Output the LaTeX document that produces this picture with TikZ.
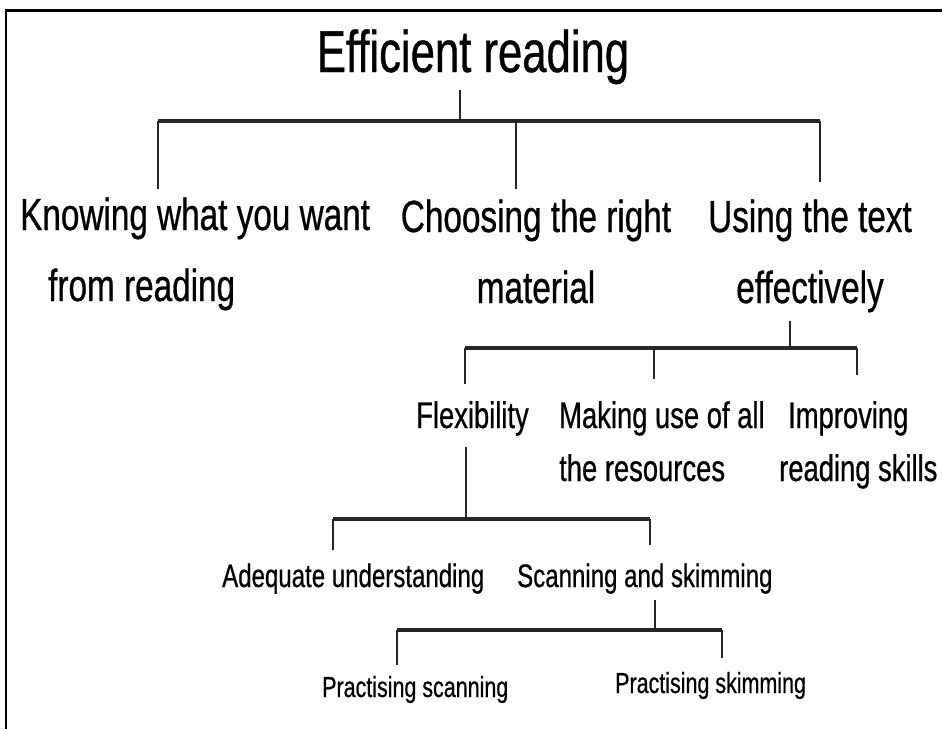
\documentclass[tikz,border=0pt]{standalone}
\usepackage{fontspec}
\setmainfont[FakeStretch=0.74, FakeBold=0.6]{Liberation Sans}
\usetikzlibrary{positioning,calc}
\definecolor{treeLine}{RGB}{38,38,38}
\tikzset{
  topic/.style={inner sep=0pt, anchor=base, font=\fontsize{59}{68}\selectfont},
  branch/.style={inner sep=0pt, anchor=base west, align=left, font=\fontsize{45}{71}\selectfont},
  branchc/.style={branch, anchor=base, align=center},
  twig/.style={inner sep=0pt, anchor=base west, align=left, font=\fontsize{37}{53}\selectfont},
  leaf/.style={inner sep=0pt, anchor=base west, font=\fontsize{32.5}{40}\selectfont},
  tip/.style={inner sep=0pt, anchor=base west, font=\fontsize{29}{34}\selectfont},
  bar/.style={draw=treeLine, line width=3.4pt},
  drop/.style={draw=treeLine, line width=2.2pt},
  frame/.style={draw=black, line width=2.4pt},
}

\begin{document}
\begin{tikzpicture}[x=1pt, y=-1pt]
  \useasboundingbox (0,0) rectangle (942,729);
  \draw[frame] (6,729) -- (6,10.5) -- (942,10.5);

  % top level (base anchor sits on the last line)
  \node[topic] (eff) at (473,72) {Efficient reading};
  \node[branch] (know) at (20,301) {Knowing what you want\\\hspace*{28pt}from reading};
  \node[branchc] (choose) at (536,303) {Choosing the right\\material};
  \node[branchc] (using) at (810,303) {Using the text\\effectively};

  \coordinate (s0) at (460,121);
  \coordinate (b1a) at (158,121); \coordinate (b1b) at (516,121); \coordinate (b1c) at (820,121);
  \draw[drop, shorten <=6pt] (eff.south -| s0) -- (s0);
  \draw[bar] (b1a) -- (b1c);
  \draw[drop, shorten >=8pt] (b1a) -- (b1a |- know.north);
  \draw[drop, shorten >=10pt] (b1b) -- (b1b |- choose.north);
  \draw[drop, shorten >=17pt] (b1c) -- (b1c |- using.north);

  % using the text effectively
  \node[twig] (flex) at (416,428) {Flexibility};
  \node[twig] (making) at (559,481) {Making use of all\\the resources};
  \node[twig] (improve) at (779,481) {\hspace*{9pt}Improving\\reading skills};

  \coordinate (s1) at (790,348);
  \coordinate (b2a) at (465,348); \coordinate (b2b) at (654,348); \coordinate (b2c) at (857,348);
  \draw[drop, shorten <=8pt] (using.south -| s1) -- (s1);
  \draw[bar] (b2a) -- (b2c);
  \draw[drop, shorten >=17pt] (b2a) -- (b2a |- flex.north);
  \draw[drop, shorten >=22pt] (b2b) -- (b2b |- making.north);
  \draw[drop, shorten >=26pt] (b2c) -- (b2c |- improve.north);

  % flexibility
  \node[leaf] (adequate) at (222,587) {Adequate understanding};
  \node[leaf] (scan) at (517,587) {Scanning and skimming};

  \coordinate (s2) at (466,519);
  \coordinate (b3a) at (333,519); \coordinate (b3b) at (650,519);
  \draw[drop, shorten <=11pt] (flex.south -| s2) -- (s2);
  \draw[bar] (b3a) -- (b3b);
  \draw[drop, shorten >=13pt] (b3a) -- (b3a |- adequate.north);
  \draw[drop, shorten >=18pt] (b3b) -- (b3b |- scan.north);

  % scanning and skimming
  \node[tip] (pscan) at (322,697) {Practising scanning};
  \node[tip] (pskim) at (615,693) {Practising skimming};

  \coordinate (s3) at (655,630);
  \coordinate (b4a) at (397,630); \coordinate (b4b) at (722,630);
  \draw[drop, shorten <=6pt] (scan.south -| s3) -- (s3);
  \draw[bar] (b4a) -- (b4b);
  \draw[drop, shorten >=11pt] (b4a) -- (b4a |- pscan.north);
  \draw[drop, shorten >=14pt] (b4b) -- (b4b |- pskim.north);
\end{tikzpicture}
\end{document}
